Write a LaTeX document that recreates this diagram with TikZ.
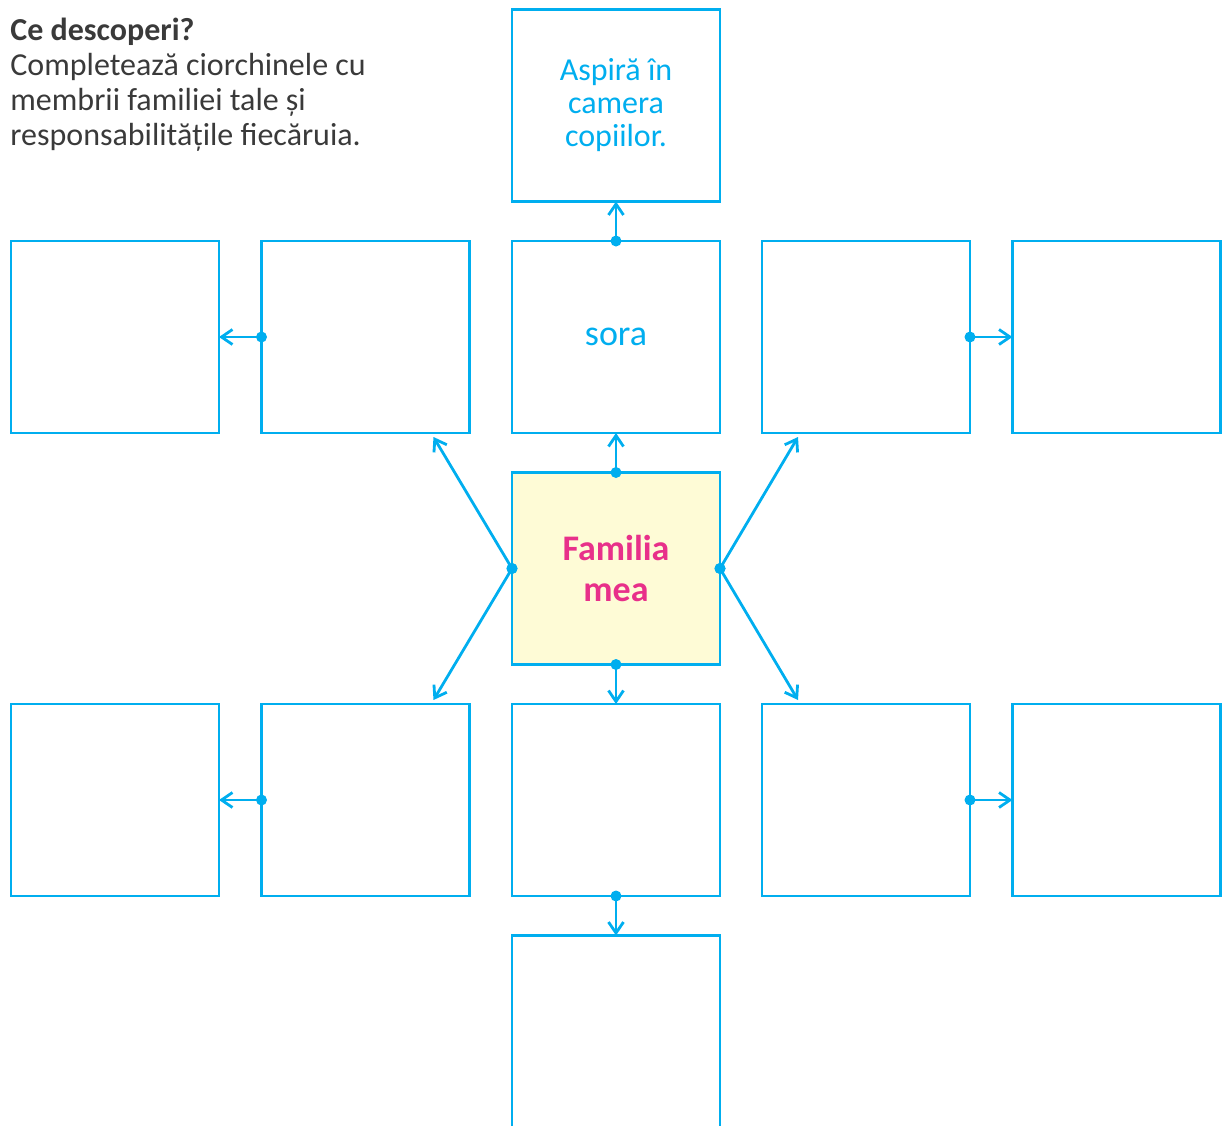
\documentclass[tikz,border=0pt]{standalone}
\usepackage{fontspec}
\setmainfont{Carlito}
\usepackage{xcolor}
\usetikzlibrary{arrows.meta}
\definecolor{cyanline}{HTML}{00AEEF}
\definecolor{famrose}{HTML}{E8308A}
\definecolor{famfill}{HTML}{FEFBD6}
\definecolor{headgray}{HTML}{3A3A3A}

\begin{document}
\begin{tikzpicture}[
  x=0.5pt,y=-0.5pt,
  card/.style={draw=cyanline,line width=1.4pt,fill=white,minimum width=104pt,minimum height=96pt,
               inner sep=2pt,outer sep=0pt,align=center,text=cyanline,
               font=\fontsize{16}{16.5}\selectfont},
  link/.style={draw=cyanline,line width=1.4pt,-{Straight Barb[length=5.5pt,width=7.5pt]}},
  head/.style={align=left,text=headgray,inner sep=0pt,font=\fontsize{16}{17.5}\selectfont}
]
  \useasboundingbox (0,0) rectangle (1228,1126);
  \clip (0,0) rectangle (1228,1126);

  \node[head,anchor=north west] (intro) at (10,18)
    {\textbf{Ce descoperi?}\\Completează ciorchinele cu\\membrii familiei tale și\\responsabilitățile fiecăruia.};

  % centru
  \node[card,fill=famfill,text=famrose,font=\bfseries\fontsize{18}{20.5}\selectfont] (cen) at (616,568.5) {Familia\\mea};
  % coloana din mijloc
  \node[card] (task) at (616,105.5) {Aspiră în\\camera\\copiilor.};
  \node[card,font=\fontsize{18}{20}\selectfont] (sora) at (616,337) {sora};
  \node[card] (jos)  at (616,800) {};
  \node[card] (jos2) at (616,1031.5) {};
  % stanga
  \node[card] (st1) at (115,337) {};
  \node[card] (st2) at (365.5,337) {};
  \node[card] (sj1) at (115,800) {};
  \node[card] (sj2) at (365.5,800) {};
  % dreapta
  \node[card] (dr1) at (866,337) {};
  \node[card] (dr2) at (1116.5,337) {};
  \node[card] (dj1) at (866,800) {};
  \node[card] (dj2) at (1116.5,800) {};

  \coordinate (st2in) at ([xshift=-18pt,yshift=-2pt]st2.south east);
  \coordinate (sj2in) at ([xshift=-18pt,yshift=2pt]sj2.north east);
  \coordinate (dr1in) at ([xshift=18pt,yshift=-2pt]dr1.south west);
  \coordinate (dj1in) at ([xshift=18pt,yshift=2pt]dj1.north west);

  \foreach \from/\to in {sora.north/task.south, cen.north/sora.south, cen.south/jos.north,
                         jos.south/jos2.north, st2.west/st1.east, sj2.west/sj1.east,
                         dr1.east/dr2.west, dj1.east/dj2.west,
                         cen.west/st2in, cen.west/sj2in, cen.east/dr1in, cen.east/dj1in}{
    \draw[link] (\from) -- (\to);
    \fill[cyanline] (\from) circle (2.75pt);
  }
\end{tikzpicture}
\end{document}
